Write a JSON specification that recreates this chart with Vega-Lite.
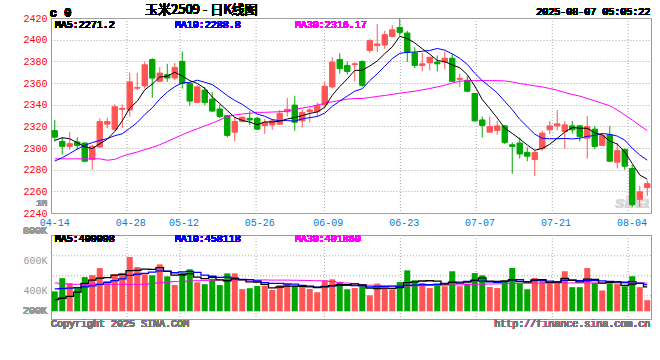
{
  "$schema": "https://vega.github.io/schema/vega-lite/v6.json",
  "padding": {"left": 22, "top": 3, "right": 8, "bottom": 5},
  "background": "white",
  "bounds": "flush",
  "spacing": 22,
  "config": {
    "view": {"stroke": "#999", "strokeWidth": 1},
    "axis": {"labelFont": "Liberation Mono", "labelFontSize": 10, "ticks": false, "tickSize": 0, "domain": false, "title": null, "labelOverlap": false, "labelSeparation": 0},
    "text": {"font": "Liberation Mono", "fontSize": 10},
    "line": {"strokeWidth": 1}
  },
  "datasets": {
    "k": [
      {"d":"04-14","o":2316,"h":2326,"l":2306,"c":2310,"m5":2307,"m10":2288,"m30":2290,"v":395000,"vm5":340000,"vm10":411000,"vm30":451000},
      {"d":"04-15","o":2306,"h":2310,"l":2294,"c":2301.5,"m5":2309.5,"m10":2291,"m30":2290,"v":483000,"vm5":349000,"vm10":413000,"vm30":446000},
      {"d":"04-16","o":2301.5,"h":2314.6,"l":2298.5,"c":2304,"m5":2308.5,"m10":2295,"m30":2290,"v":449000,"vm5":362000,"vm10":416000,"vm30":443000},
      {"d":"04-17","o":2305.5,"h":2309.8,"l":2298.5,"c":2302.4,"m5":2305,"m10":2299,"m30":2290,"v":425000,"vm5":390000,"vm10":420000,"vm30":442000},
      {"d":"04-18","o":2304.6,"h":2305.2,"l":2286.9,"c":2287.8,"m5":2301.1,"m10":2302.5,"m30":2290,"v":490000,"vm5":448400,"vm10":425000,"vm30":442000},
      {"d":"04-21","o":2289.3,"h":2303,"l":2279.9,"c":2301.5,"m5":2299.4,"m10":2305,"m30":2290,"v":503000,"vm5":470000,"vm10":432000,"vm30":442000},
      {"d":"04-22","o":2300.9,"h":2327.4,"l":2300,"c":2324.4,"m5":2304,"m10":2307,"m30":2290,"v":550000,"vm5":483400,"vm10":442000,"vm30":442000},
      {"d":"04-23","o":2322,"h":2328,"l":2318.3,"c":2324.4,"m5":2308.1,"m10":2308.7,"m30":2288.7,"v":463000,"vm5":486200,"vm10":455000,"vm30":442000},
      {"d":"04-24","o":2317.4,"h":2340.2,"l":2315.9,"c":2338.1,"m5":2315.2,"m10":2311.3,"m30":2289.5,"v":510000,"vm5":503200,"vm10":466000,"vm30":442000},
      {"d":"04-25","o":2335.7,"h":2340.2,"l":2318.3,"c":2336.6,"m5":2325,"m10":2313.1,"m30":2292.4,"v":518000,"vm5":508800,"vm10":478600,"vm30":442000},
      {"d":"04-28","o":2335.1,"h":2369.5,"l":2329,"c":2361,"m5":2336.9,"m10":2318.2,"m30":2294.5,"v":624000,"vm5":533000,"vm10":501500,"vm30":442000},
      {"d":"04-29","o":2355.2,"h":2369.5,"l":2353.4,"c":2355.8,"m5":2343.2,"m10":2323.6,"m30":2296.3,"v":557000,"vm5":534400,"vm10":508900,"vm30":442000},
      {"d":"04-30","o":2357.3,"h":2379.3,"l":2354.9,"c":2376.8,"m5":2353.7,"m10":2330.9,"m30":2298.5,"v":509000,"vm5":543600,"vm10":514900,"vm30":442000},
      {"d":"05-06","o":2381.7,"h":2382.9,"l":2346.3,"c":2364.6,"m5":2359,"m10":2337.1,"m30":2300.6,"v":502000,"vm5":542000,"vm10":522600,"vm30":448000},
      {"d":"05-07","o":2361.6,"h":2374.7,"l":2361,"c":2369.2,"m5":2365.5,"m10":2345.2,"m30":2303,"v":575000,"vm5":553400,"vm10":531100,"vm30":452000},
      {"d":"05-08","o":2367.7,"h":2377.7,"l":2361,"c":2364.6,"m5":2366.2,"m10":2351.6,"m30":2306.1,"v":495000,"vm5":527600,"vm10":530300,"vm30":456000},
      {"d":"05-09","o":2364.6,"h":2378.4,"l":2362.5,"c":2374.4,"m5":2369.9,"m10":2356.6,"m30":2309.1,"v":437000,"vm5":503600,"vm10":519000,"vm30":460000},
      {"d":"05-12","o":2379.9,"h":2389,"l":2354.9,"c":2359.5,"m5":2366.5,"m10":2360.1,"m30":2312.2,"v":520000,"vm5":505800,"vm10":524700,"vm30":462000},
      {"d":"05-13","o":2359.5,"h":2361,"l":2339,"c":2343.3,"m5":2362.2,"m10":2360.6,"m30":2315.2,"v":542000,"vm5":513800,"vm10":527900,"vm30":464000},
      {"d":"05-14","o":2342.1,"h":2357.9,"l":2341.2,"c":2356.4,"m5":2359.6,"m10":2362.6,"m30":2317.7,"v":455000,"vm5":489800,"vm10":521600,"vm30":466000},
      {"d":"05-15","o":2353.4,"h":2356.4,"l":2339.6,"c":2342.1,"m5":2355.1,"m10":2360.7,"m30":2320.4,"v":443000,"vm5":479400,"vm10":503500,"vm30":468000},
      {"d":"05-16","o":2345.1,"h":2351.8,"l":2332.9,"c":2334.1,"m5":2347.1,"m10":2358.5,"m30":2322.9,"v":479000,"vm5":487800,"vm10":495700,"vm30":470000},
      {"d":"05-19","o":2336,"h":2340.2,"l":2327.4,"c":2329,"m5":2341,"m10":2353.7,"m30":2325.9,"v":437000,"vm5":471200,"vm10":488500,"vm30":471000},
      {"d":"05-20","o":2329.9,"h":2330.5,"l":2309.8,"c":2311.6,"m5":2334.6,"m10":2348.4,"m30":2329,"v":515000,"vm5":465800,"vm10":489800,"vm30":472000},
      {"d":"05-21","o":2314.6,"h":2329,"l":2306.1,"c":2324.4,"m5":2328.2,"m10":2343.9,"m30":2330.5,"v":515000,"vm5":477800,"vm10":483800,"vm30":472000},
      {"d":"05-22","o":2324.4,"h":2329,"l":2323.8,"c":2328.4,"m5":2325.5,"m10":2340.3,"m30":2331.4,"v":410000,"vm5":471200,"vm10":475300,"vm30":472000},
      {"d":"05-23","o":2327.4,"h":2334.1,"l":2321.3,"c":2325.9,"m5":2323.9,"m10":2335.5,"m30":2332,"v":416000,"vm5":458600,"vm10":473200,"vm30":471000},
      {"d":"05-26","o":2327.4,"h":2329,"l":2316.8,"c":2317.4,"m5":2321.5,"m10":2331.3,"m30":2332.9,"v":431000,"vm5":457400,"vm10":464300,"vm30":471000},
      {"d":"05-27","o":2320.7,"h":2326.8,"l":2313.1,"c":2323.8,"m5":2324,"m10":2329.3,"m30":2332.9,"v":433000,"vm5":441000,"vm10":453400,"vm30":471000},
      {"d":"05-28","o":2321.3,"h":2326.8,"l":2316.8,"c":2325,"m5":2324.1,"m10":2326.2,"m30":2333.2,"v":404000,"vm5":418800,"vm10":448300,"vm30":470000},
      {"d":"05-29","o":2322,"h":2335.1,"l":2321.3,"c":2332,"m5":2324.8,"m10":2325.2,"m30":2333.5,"v":437000,"vm5":424200,"vm10":447700,"vm30":470000},
      {"d":"05-30","o":2333.5,"h":2346.3,"l":2329,"c":2335.7,"m5":2326.8,"m10":2325.3,"m30":2334.1,"v":444000,"vm5":429800,"vm10":444200,"vm30":470000},
      {"d":"06-03","o":2339.6,"h":2348.2,"l":2315.9,"c":2323.8,"m5":2328.1,"m10":2324.8,"m30":2335.7,"v":433000,"vm5":430200,"vm10":443800,"vm30":469000},
      {"d":"06-04","o":2325,"h":2335.1,"l":2318.9,"c":2332.9,"m5":2329.9,"m10":2326.9,"m30":2336.9,"v":427000,"vm5":429000,"vm10":435000,"vm30":468000},
      {"d":"06-05","o":2333.5,"h":2337.2,"l":2323.8,"c":2335.1,"m5":2331.9,"m10":2328,"m30":2338.1,"v":411000,"vm5":430400,"vm10":424600,"vm30":467000},
      {"d":"06-06","o":2333.5,"h":2342,"l":2329,"c":2339,"m5":2333.3,"m10":2329.1,"m30":2339.6,"v":389000,"vm5":420800,"vm10":422500,"vm30":466000},
      {"d":"06-09","o":2340.2,"h":2361,"l":2337.2,"c":2357,"m5":2337.6,"m10":2332.2,"m30":2341.2,"v":467000,"vm5":425400,"vm10":427600,"vm30":465000},
      {"d":"06-10","o":2356.4,"h":2383.8,"l":2354.9,"c":2379.3,"m5":2348.7,"m10":2338.4,"m30":2342.7,"v":475000,"vm5":433800,"vm10":432000,"vm30":460000},
      {"d":"06-11","o":2381.7,"h":2387.5,"l":2368.6,"c":2373.2,"m5":2356.7,"m10":2343.3,"m30":2343.9,"v":457000,"vm5":439800,"vm10":434400,"vm30":455000},
      {"d":"06-12","o":2376.2,"h":2379.9,"l":2367.7,"c":2370.7,"m5":2363.8,"m10":2347.9,"m30":2345.1,"v":409000,"vm5":439400,"vm10":434900,"vm30":450000},
      {"d":"06-13","o":2377.1,"h":2379.3,"l":2361.6,"c":2377.7,"m5":2371.6,"m10":2352.4,"m30":2345.7,"v":417000,"vm5":445000,"vm10":432900,"vm30":445000},
      {"d":"06-16","o":2379.9,"h":2380.8,"l":2356.4,"c":2357.9,"m5":2371.8,"m10":2354.7,"m30":2345.7,"v":429000,"vm5":437400,"vm10":431400,"vm30":440000},
      {"d":"06-17","o":2390,"h":2400.6,"l":2387.8,"c":2399.1,"m5":2375.7,"m10":2362.2,"m30":2346.6,"v":369000,"vm5":416200,"vm10":425000,"vm30":436000},
      {"d":"06-18","o":2394.5,"h":2414.3,"l":2388.4,"c":2396,"m5":2380.3,"m10":2368.5,"m30":2347.6,"v":447000,"vm5":414200,"vm10":427000,"vm30":433000},
      {"d":"06-19","o":2395.1,"h":2408.2,"l":2391.5,"c":2404.6,"m5":2387.1,"m10":2375.5,"m30":2348.5,"v":420000,"vm5":416400,"vm10":427900,"vm30":431000},
      {"d":"06-20","o":2403,"h":2413.4,"l":2402.1,"c":2409.1,"m5":2393.3,"m10":2382.5,"m30":2349.4,"v":409000,"vm5":414800,"vm10":429900,"vm30":430000},
      {"d":"06-23","o":2411.3,"h":2419.5,"l":2403.7,"c":2406.7,"m5":2403.1,"m10":2387.4,"m30":2350.6,"v":457000,"vm5":420400,"vm10":428900,"vm30":430000},
      {"d":"06-24","o":2406.1,"h":2408.2,"l":2379.3,"c":2388.4,"m5":2401,"m10":2388.3,"m30":2351.5,"v":535000,"vm5":453600,"vm10":434900,"vm30":431000},
      {"d":"06-25","o":2387.8,"h":2393,"l":2373.8,"c":2376.2,"m5":2397,"m10":2388.6,"m30":2352.4,"v":469000,"vm5":458000,"vm10":436100,"vm30":432000},
      {"d":"06-26","o":2376.2,"h":2387.8,"l":2370.7,"c":2377.7,"m5":2391.6,"m10":2389.3,"m30":2353.7,"v":451000,"vm5":464200,"vm10":440300,"vm30":433000},
      {"d":"06-27","o":2378.7,"h":2384,"l":2371.6,"c":2383.8,"m5":2386.6,"m10":2390,"m30":2354.9,"v":417000,"vm5":465800,"vm10":440300,"vm30":434000},
      {"d":"06-30","o":2379.3,"h":2385.4,"l":2370.7,"c":2377.7,"m5":2380.8,"m10":2391.9,"m30":2356.4,"v":447000,"vm5":463800,"vm10":442100,"vm30":435000},
      {"d":"07-01","o":2379.3,"h":2389,"l":2372.6,"c":2382.9,"m5":2379.7,"m10":2390.3,"m30":2357.9,"v":429000,"vm5":442600,"vm10":448100,"vm30":436000},
      {"d":"07-02","o":2382.9,"h":2386.9,"l":2361,"c":2361.6,"m5":2376.7,"m10":2386.9,"m30":2360,"v":529000,"vm5":454600,"vm10":456300,"vm30":437000},
      {"d":"07-03","o":2363.4,"h":2368.6,"l":2356.4,"c":2364.3,"m5":2374.1,"m10":2382.8,"m30":2361.6,"v":429000,"vm5":450200,"vm10":457200,"vm30":438000},
      {"d":"07-04","o":2362.5,"h":2366.2,"l":2351.2,"c":2352.4,"m5":2367.8,"m10":2377.2,"m30":2362.2,"v":447000,"vm5":456200,"vm10":461000,"vm30":440000},
      {"d":"07-07","o":2350.3,"h":2350.3,"l":2324.4,"c":2325,"m5":2357.2,"m10":2369,"m30":2362.2,"v":517000,"vm5":470200,"vm10":467000,"vm30":442000},
      {"d":"07-08","o":2325.9,"h":2329,"l":2309.8,"c":2320.7,"m5":2344.8,"m10":2362.2,"m30":2362.2,"v":502000,"vm5":484800,"vm10":463700,"vm30":443000},
      {"d":"07-09","o":2314.6,"h":2329,"l":2314.6,"c":2319.8,"m5":2336.4,"m10":2356.6,"m30":2362.2,"v":424000,"vm5":463800,"vm10":459200,"vm30":444000},
      {"d":"07-10","o":2316.2,"h":2325,"l":2312.2,"c":2320.4,"m5":2327.7,"m10":2350.9,"m30":2362.2,"v":417000,"vm5":461400,"vm10":455800,"vm30":445000},
      {"d":"07-11","o":2320.4,"h":2321.3,"l":2303.7,"c":2305.2,"m5":2318.2,"m10":2343,"m30":2361.9,"v":462000,"vm5":464400,"vm10":460300,"vm30":446000},
      {"d":"07-14","o":2303,"h":2305.2,"l":2276.2,"c":2301.5,"m5":2313.5,"m10":2335.4,"m30":2361,"v":551000,"vm5":471200,"vm10":470700,"vm30":447000},
      {"d":"07-15","o":2304.6,"h":2309.8,"l":2290.2,"c":2294.5,"m5":2308.3,"m10":2326.5,"m30":2359.5,"v":447000,"vm5":460200,"vm10":472500,"vm30":448000},
      {"d":"07-16","o":2296,"h":2300.6,"l":2287.8,"c":2292.4,"m5":2302.8,"m10":2319.6,"m30":2358.5,"v":409000,"vm5":457200,"vm10":460500,"vm30":449000},
      {"d":"07-17","o":2289.3,"h":2297.6,"l":2274.1,"c":2296,"m5":2297.9,"m10":2312.8,"m30":2357.3,"v":484000,"vm5":470600,"vm10":466000,"vm30":450000},
      {"d":"07-18","o":2299.4,"h":2315.9,"l":2297.6,"c":2313.7,"m5":2299.6,"m10":2308.9,"m30":2356.4,"v":476000,"vm5":473400,"vm10":468900,"vm30":450000},
      {"d":"07-21","o":2316.8,"h":2325,"l":2312.8,"c":2320.4,"m5":2303.4,"m10":2308.5,"m30":2354.9,"v":456000,"vm5":454400,"vm10":462800,"vm30":451000},
      {"d":"07-22","o":2320.4,"h":2335.1,"l":2316.2,"c":2322.3,"m5":2309,"m10":2308.6,"m30":2353.4,"v":461000,"vm5":457200,"vm10":458700,"vm30":451000},
      {"d":"07-23","o":2315.2,"h":2325,"l":2299.1,"c":2321.3,"m5":2314.7,"m10":2308.8,"m30":2351.2,"v":529000,"vm5":481200,"vm10":469200,"vm30":451000},
      {"d":"07-24","o":2320.4,"h":2325,"l":2313.4,"c":2316.8,"m5":2318.9,"m10":2308.4,"m30":2349.4,"v":423000,"vm5":469000,"vm10":469800,"vm30":451000},
      {"d":"07-25","o":2320.4,"h":2321.3,"l":2306.1,"c":2310.7,"m5":2318.3,"m10":2309,"m30":2347.9,"v":423000,"vm5":458400,"vm10":465900,"vm30":451000},
      {"d":"07-28","o":2309.1,"h":2329.6,"l":2290.2,"c":2319.8,"m5":2318.2,"m10":2310.8,"m30":2345.7,"v":550000,"vm5":477200,"vm10":465800,"vm30":451000},
      {"d":"07-29","o":2317.4,"h":2320.4,"l":2299.1,"c":2301.5,"m5":2314,"m10":2311.5,"m30":2343.6,"v":451000,"vm5":475200,"vm10":466200,"vm30":451000},
      {"d":"07-30","o":2302.4,"h":2312.8,"l":2302.1,"c":2311.6,"m5":2312.1,"m10":2313.4,"m30":2341.2,"v":401000,"vm5":449600,"vm10":465400,"vm30":451000},
      {"d":"07-31","o":2312.2,"h":2320.4,"l":2287.2,"c":2287.8,"m5":2306.3,"m10":2312.6,"m30":2339,"v":448000,"vm5":454600,"vm10":461800,"vm30":451000},
      {"d":"08-01","o":2286.9,"h":2304.6,"l":2281.1,"c":2297.6,"m5":2303.7,"m10":2311,"m30":2335.1,"v":443000,"vm5":458600,"vm10":458500,"vm30":451000},
      {"d":"08-04","o":2298.8,"h":2299.4,"l":2279.9,"c":2283.2,"m5":2296.3,"m10":2307.3,"m30":2330.5,"v":429000,"vm5":434400,"vm10":455800,"vm30":451000},
      {"d":"08-05","o":2281.1,"h":2284.1,"l":2245.7,"c":2247.6,"m5":2285.6,"m10":2299.8,"m30":2325.9,"v":496000,"vm5":443400,"vm10":459300,"vm30":451000},
      {"d":"08-06","o":2252.7,"h":2265,"l":2245.1,"c":2259.5,"m5":2275.1,"m10":2293.6,"m30":2320.7,"v":423000,"vm5":447800,"vm10":448700,"vm30":451000},
      {"d":"08-07","o":2263.4,"h":2270.1,"l":2255.8,"c":2267.1,"m5":2271.2,"m10":2288.8,"m30":2316.2,"v":336000,"vm5":425400,"vm10":440000,"vm30":451000}
    ],
    "grid": [{"g":"04-28"},{"g":"05-12"},{"g":"05-26"},{"g":"06-09"},{"g":"06-23"},{"g":"07-07"},{"g":"07-21"},{"g":"08-04"}]
  },
  "vconcat": [
    {
      "width": 600,
      "height": 195,
      "layer": [
        {
          "data": {"name": "grid"},
          "mark": {"type": "rule", "color": "#aaa", "strokeDash": [1, 2], "strokeWidth": 1},
          "encoding": {
            "x": {
              "field": "g", "type": "ordinal", "bandPosition": 0,
              "scale": {"type": "band", "padding": 0, "domain": ["04-14","04-15","04-16","04-17","04-18","04-21","04-22","04-23","04-24","04-25","04-28","04-29","04-30","05-06","05-07","05-08","05-09","05-12","05-13","05-14","05-15","05-16","05-19","05-20","05-21","05-22","05-23","05-26","05-27","05-28","05-29","05-30","06-03","06-04","06-05","06-06","06-09","06-10","06-11","06-12","06-13","06-16","06-17","06-18","06-19","06-20","06-23","06-24","06-25","06-26","06-27","06-30","07-01","07-02","07-03","07-04","07-07","07-08","07-09","07-10","07-11","07-14","07-15","07-16","07-17","07-18","07-21","07-22","07-23","07-24","07-25","07-28","07-29","07-30","07-31","08-01","08-04","08-05","08-06"]},
              "axis": {"orient": "bottom", "values": ["04-14","04-28","05-12","05-26","06-09","06-23","07-07","07-21","08-04"], "bandPosition": 0, "labelColor": "#0a7ad0", "labelPadding": 4, "labelAngle": 0, "grid": false, "labelFlush": false, "labelOverlap": false}
            }
          }
        },
        {
          "data": {"name": "k"},
          "encoding": {
            "x": {"field": "d", "type": "ordinal", "scale": {"type": "band", "padding": 0}, "axis": null}
          },
          "layer": [
            {
              "mark": {"type": "text", "text": "sina", "font": "Liberation Sans", "fontSize": 17, "fontWeight": "bold", "fontStyle": "italic", "color": "#d8d8d8"},
              "encoding": {"x": {"datum": "08-05", "type": "ordinal", "axis": null}, "y": {"datum": 2249}}
            },
            {
              "mark": {"type": "rule", "strokeWidth": 1},
              "encoding": {
                "y": {"field": "l", "type": "quantitative", "scale": {"domain": [2240, 2420], "nice": false, "zero": false},
                      "axis": {"values": [2240,2260,2280,2300,2320,2340,2360,2380,2400,2420], "tickCount": 20, "format": "d", "labelOverlap": false, "labelSeparation": 0, "labelColor": "#ff0000", "labelPadding": 4, "grid": true, "gridColor": "#aaa", "gridDash": [1, 2]}},
                "y2": {"field": "h"},
                "color": {"condition": {"test": "datum.c >= datum.o", "value": "#ff5555"}, "value": "#00a600"}
              }
            },
            {
              "mark": {"type": "bar", "width": {"band": 0.72}, "strokeWidth": 1},
              "encoding": {
                "y": {"field": "o", "type": "quantitative"},
                "y2": {"field": "c"},
                "color": {"condition": {"test": "datum.c >= datum.o", "value": "#ff5555"}, "value": "#00a600"},
                "stroke": {"condition": {"test": "datum.c >= datum.o", "value": "#ff5555"}, "value": "#00a600"}
              }
            },
            {"mark": {"type": "line", "color": "#ff00ff"}, "encoding": {"y": {"field": "m30", "type": "quantitative"}}},
            {"mark": {"type": "line", "color": "#0000ff"}, "encoding": {"y": {"field": "m10", "type": "quantitative"}}},
            {"mark": {"type": "line", "color": "#000000"}, "encoding": {"y": {"field": "m5", "type": "quantitative"}}},
            {
              "mark": {"type": "text", "text": "MA5:2271.2", "align": "left", "color": "#000000"},
              "encoding": {"x": {"datum": "04-14", "type": "ordinal", "axis": null}, "y": {"datum": 2414}}
            },
            {
              "mark": {"type": "text", "text": "MA10:2288.8", "align": "left", "color": "#0000ff"},
              "encoding": {"x": {"datum": "05-09", "type": "ordinal", "axis": null}, "y": {"datum": 2414}}
            },
            {
              "mark": {"type": "text", "text": "MA30:2316.17", "align": "left", "color": "#ff00ff"},
              "encoding": {"x": {"datum": "06-03", "type": "ordinal", "axis": null}, "y": {"datum": 2414}}
            },
            {
              "mark": {"type": "text", "text": "c 0", "align": "left", "dx": -5, "fontSize": 12, "fontWeight": "bold", "color": "#000000"},
              "encoding": {"x": {"datum": "04-14", "type": "ordinal", "axis": null}, "y": {"datum": 2424.6}}
            },
            {
              "mark": {"type": "text", "text": "玉米2509 - 日K线图", "align": "center", "dx": 4, "font": "Noto Sans CJK SC", "fontSize": 13, "color": "#000000"},
              "encoding": {"x": {"datum": "05-14", "type": "ordinal", "axis": null}, "y": {"datum": 2427.4}}
            },
            {
              "mark": {"type": "text", "text": "2025-08-07 05:05:22", "align": "right", "dx": 3, "color": "#000000"},
              "encoding": {"x": {"datum": "08-07", "type": "ordinal", "axis": null}, "y": {"datum": 2425.1}}
            },
            {
              "mark": {"type": "text", "text": "1M", "align": "center", "dx": -13, "fontSize": 9, "color": "#999999"},
              "encoding": {"x": {"datum": "04-14", "type": "ordinal", "axis": null}, "y": {"datum": 2249.6}}
            }
          ]
        }
      ],
      "resolve": {"scale": {"x": "independent"}, "axis": {"x": "independent"}}
    },
    {
      "width": 600,
      "height": 84,
      "layer": [
        {
          "data": {"name": "grid"},
          "mark": {"type": "rule", "color": "#aaa", "strokeDash": [1, 2], "strokeWidth": 1},
          "encoding": {
            "x": {
              "field": "g", "type": "ordinal", "bandPosition": 0,
              "scale": {"type": "band", "padding": 0, "domain": ["04-14","04-15","04-16","04-17","04-18","04-21","04-22","04-23","04-24","04-25","04-28","04-29","04-30","05-06","05-07","05-08","05-09","05-12","05-13","05-14","05-15","05-16","05-19","05-20","05-21","05-22","05-23","05-26","05-27","05-28","05-29","05-30","06-03","06-04","06-05","06-06","06-09","06-10","06-11","06-12","06-13","06-16","06-17","06-18","06-19","06-20","06-23","06-24","06-25","06-26","06-27","06-30","07-01","07-02","07-03","07-04","07-07","07-08","07-09","07-10","07-11","07-14","07-15","07-16","07-17","07-18","07-21","07-22","07-23","07-24","07-25","07-28","07-29","07-30","07-31","08-01","08-04","08-05","08-06"]},
              "axis": null
            }
          }
        },
        {
          "data": {"name": "k"},
          "encoding": {
            "x": {"field": "d", "type": "ordinal", "scale": {"type": "band", "padding": 0}, "axis": null}
          },
          "layer": [
            {
              "data": {"values": [{"g": 632000}, {"g": 498700}, {"g": 365300}]},
              "mark": {"type": "rule", "color": "#aaa", "strokeDash": [1, 2], "strokeWidth": 1},
              "encoding": {"x": null, "y": {"field": "g", "type": "quantitative"}}
            },
            {
              "mark": {"type": "bar", "width": {"band": 0.8}},
              "encoding": {
                "y": {"field": "v", "type": "quantitative", "scale": {"domain": [210700, 770700], "nice": false, "zero": false},
                      "axis": {"values": [400000, 600000], "tickCount": 10, "labelExpr": "format(datum.value/1000, 'd') + 'K'", "labelColor": "#999999", "labelPadding": 4, "grid": false}},
                "y2": {"datum": 262000},
                "color": {"condition": {"test": "datum.c >= datum.o", "value": "#ff5555"}, "value": "#00a600"}
              }
            },
            {"mark": {"type": "line", "color": "#ff00ff", "interpolate": "step"}, "encoding": {"y": {"field": "vm30", "type": "quantitative"}}},
            {"mark": {"type": "line", "color": "#0000ff", "interpolate": "step", "strokeWidth": 1.3}, "encoding": {"y": {"field": "vm10", "type": "quantitative"}}},
            {"mark": {"type": "line", "color": "#000000", "interpolate": "step", "strokeWidth": 1.3}, "encoding": {"y": {"field": "vm5", "type": "quantitative"}}},
            {
              "mark": {"type": "text", "text": "MA5:409098", "align": "left", "color": "#000000"},
              "encoding": {"x": {"datum": "04-14", "type": "ordinal", "axis": null}, "y": {"datum": 742000}}
            },
            {
              "mark": {"type": "text", "text": "MA10:458118", "align": "left", "color": "#0000ff"},
              "encoding": {"x": {"datum": "05-09", "type": "ordinal", "axis": null}, "y": {"datum": 742000}}
            },
            {
              "mark": {"type": "text", "text": "MA30:491860", "align": "left", "color": "#ff00ff"},
              "encoding": {"x": {"datum": "06-03", "type": "ordinal", "axis": null}, "y": {"datum": 742000}}
            },
            {
              "mark": {"type": "text", "text": "800K", "align": "right", "dx": -7.75, "color": "#999999"},
              "encoding": {"x": {"datum": "04-14", "type": "ordinal", "axis": null}, "y": {"datum": 800000}}
            },
            {
              "mark": {"type": "text", "text": "200K", "align": "right", "dx": -7.75, "color": "#999999"},
              "encoding": {"x": {"datum": "04-14", "type": "ordinal", "axis": null}, "y": {"datum": 266000}}
            },
            {
              "mark": {"type": "text", "text": "Copyright 2025 SINA.COM", "align": "left", "dx": -3.75, "color": "#777777"},
              "encoding": {"x": {"datum": "04-14", "type": "ordinal", "axis": null}, "y": {"datum": 178700}}
            },
            {
              "mark": {"type": "text", "text": "http://finance.sina.com.cn", "align": "right", "dx": 3, "color": "#777777"},
              "encoding": {"x": {"datum": "08-07", "type": "ordinal", "axis": null}, "y": {"datum": 178700}}
            }
          ]
        }
      ],
      "resolve": {"scale": {"x": "independent"}, "axis": {"x": "independent"}}
    }
  ]
}
